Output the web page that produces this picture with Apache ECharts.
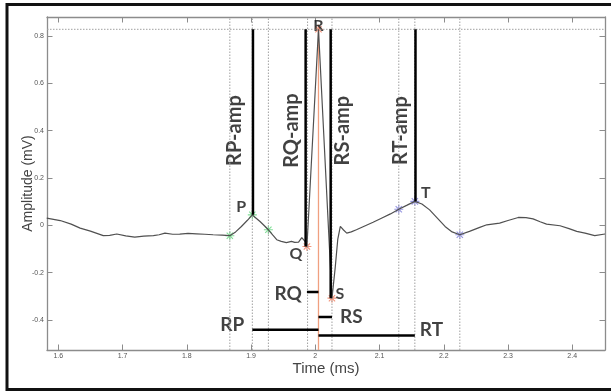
<!DOCTYPE html>
<html>
<head>
<meta charset="utf-8">
<script src="https://cdn.jsdelivr.net/npm/echarts@6/dist/echarts.min.js"></script>
<style>
html, body { margin: 0; padding: 0; background: #fff; }
#main { width: 611px; height: 392px; }
</style>
</head>
<body>
<div id="main"></div>
<script>
// ECG trace, time (ms) / amplitude (mV)
var ecgTime = [1.582, 1.603, 1.620, 1.634, 1.650, 1.670, 1.680, 1.691, 1.705, 1.719, 1.733, 1.748, 1.757, 1.766,
	1.778, 1.789, 1.802, 1.815, 1.828, 1.841, 1.855, 1.867, 1.876, 1.885, 1.894, 1.902, 1.908, 1.914, 1.920,
	1.927, 1.934, 1.940, 1.947, 1.955, 1.963, 1.968, 1.974, 1.979, 1.982, 1.984, 1.987, 2.005, 2.026, 2.031,
	2.035, 2.039, 2.044, 2.049, 2.056, 2.064, 2.077, 2.090, 2.103, 2.117, 2.130, 2.143, 2.155, 2.166, 2.178,
	2.190, 2.202, 2.213, 2.225, 2.240, 2.256, 2.267, 2.287, 2.300, 2.316, 2.328, 2.339, 2.350, 2.360, 2.381,
	2.395, 2.407, 2.420, 2.435, 2.451];
var ecgAmp = [0.030, 0.020, 0.005, -0.012, -0.025, -0.044, -0.043, -0.037, -0.045, -0.050, -0.046, -0.044, -0.040, -0.033,
	-0.038, -0.037, -0.034, -0.036, -0.038, -0.040, -0.042, -0.044, -0.028, -0.005, 0.020, 0.044, 0.030, 0.016, 0.000,
	-0.019, -0.042, -0.061, -0.068, -0.073, -0.068, -0.072, -0.071, -0.052, -0.055, -0.068, -0.090, 0.828, -0.308, -0.180,
	-0.060, -0.005, -0.020, -0.033, -0.028, -0.019, -0.003, 0.013, 0.030, 0.048, 0.068, 0.085, 0.101, 0.090, 0.065,
	0.030, -0.005, -0.028, -0.040, -0.026, -0.009, 0.002, 0.009, 0.020, 0.033, 0.032, 0.027, 0.015, 0.005, -0.002,
	-0.014, -0.026, -0.033, -0.044, -0.037];

// fiducial points (onset / peak / offset)
var pWaveTime = [1.867, 1.902, 1.927];
var pWaveAmp = [-0.044, 0.044, -0.019];
var qrsTime = [1.987, 2.005, 2.026];
var qrsAmp = [-0.090, 0.828, -0.308];
var tWaveTime = [2.130, 2.155, 2.225];
var tWaveAmp = [0.068, 0.101, -0.040];

// dotted guides
var guideTimes = [1.867, 1.902, 1.927, 1.988, 2.026, 2.130, 2.155, 2.225];
var rLevel = 0.828;
var rTime = 2.005;

// amplitude bars
var ampNames = ['RP-amp', 'RQ-amp', 'RS-amp', 'RT-amp'];
var ampTime = [1.903, 1.985, 2.024, 2.156];
var ampBase = [0.044, -0.090, -0.308, 0.101];

// interval bars
var intervalNames = ['RQ', 'RS', 'RP', 'RT'];
var intervalStart = [1.987, 2.005, 1.902, 2.005];
var intervalEnd = [2.005, 2.026, 2.005, 2.155];
var intervalLevel = [-0.282, -0.388, -0.441, -0.466];

// wave names
var peakNames = ['P', 'Q', 'R', 'S', 'T'];
var peakTime = [1.902, 1.987, 2.005, 2.026, 2.155];
var peakAmp = [0.044, -0.090, 0.828, -0.308, 0.101];

var xTicks = [1.6, 1.7, 1.8, 1.9, 2.0, 2.1, 2.2, 2.3, 2.4];
var yTicks = [-0.4, -0.2, 0, 0.2, 0.4, 0.6, 0.8];
var xMin = 1.5824, xMax = 2.451;
var yMin = -0.527, yMax = 0.88;

var myChart = echarts.init(document.getElementById('main'));

function zip(xs, ys) {
	return xs.map(function(x, i) { return [x, ys[i]]; });
}
function fmt(v) {
	return String(+(+v).toFixed(2));
}
var asterisk = 'path://M5,0L5,10M0,5L10,5M1.5,1.5L8.5,8.5M1.5,8.5L8.5,1.5';
var axisGray = '#8c8c8c';
var boldFont = 'Lato';

function boxAxis(pos, ticks, showLabel, min, max) {
	return {
		type: 'value', position: pos, min: min, max: max,
		axisLine: { show: true, onZero: false, lineStyle: { color: axisGray, width: 1.3 } },
		axisTick: { show: true, inside: true, length: 5.5, customValues: ticks, lineStyle: { color: axisGray } },
		axisLabel: { show: showLabel, customValues: ticks, formatter: fmt, fontSize: 7, color: '#555', margin: 3 },
		splitLine: { show: false }
	};
}

var series = [];

// vertical dotted guides
guideTimes.forEach(function(t) {
	series.push({
		type: 'line', silent: true, symbol: 'none',
		data: [[t, yMin], [t, yMax]],
		lineStyle: { color: '#a0a0a0', width: 1, type: [1.5, 1.5] }
	});
});
// R level dotted line
series.push({
	type: 'line', silent: true, symbol: 'none',
	data: [[xMin, rLevel], [xMax, rLevel]],
	lineStyle: { color: '#a0a0a0', width: 1, type: [1.5, 1.5] }
});
// R vertical
series.push({
	type: 'line', silent: true, symbol: 'none',
	data: [[rTime, rLevel], [rTime, yMin]],
	lineStyle: { color: '#f0a080', width: 1.3 }
});

// ECG trace
series.push({
	type: 'line', symbol: 'none', data: zip(ecgTime, ecgAmp),
	lineStyle: { color: '#505050', width: 1.2 }
});

// amplitude bars + rotated labels (offset is in the rotated frame: [along, across])
var ampShift = [-18, -14, 12, -15];
ampNames.forEach(function(name, i) {
	series.push({
		type: 'line', silent: true, symbol: 'none',
		data: [[ampTime[i], rLevel], [ampTime[i], ampBase[i]]],
		lineStyle: { color: '#000', width: 2.5 }
	});
	series.push({
		type: 'scatter', silent: true, symbolSize: 0,
		data: [[ampTime[i], 0.4]],
		label: {
			show: true, formatter: name, position: 'inside', rotate: 90, offset: [0, ampShift[i]],
			fontFamily: boldFont, fontWeight: 'bold', fontSize: 20, color: '#111'
		}
	});
});

// interval bars + labels
var intervalLabel = {
	RQ: { at: 'start', position: 'left', distance: 5, offset: [0, 2] },
	RS: { at: 'end', position: 'right', distance: 8, offset: [0, 0] },
	RP: { at: 'start', position: 'left', distance: 8, offset: [0, -5] },
	RT: { at: 'end', position: 'right', distance: 5, offset: [0, -6] }
};
intervalNames.forEach(function(name, i) {
	var cfg = intervalLabel[name];
	series.push({
		type: 'line', silent: true, symbol: 'none',
		data: [[intervalStart[i], intervalLevel[i]], [intervalEnd[i], intervalLevel[i]]],
		lineStyle: { color: '#000', width: 2.5 }
	});
	series.push({
		type: 'scatter', silent: true, symbolSize: 0,
		data: [[cfg.at === 'start' ? intervalStart[i] : intervalEnd[i], intervalLevel[i]]],
		label: {
			show: true, formatter: name, position: cfg.position, distance: cfg.distance, offset: cfg.offset,
			fontFamily: boldFont, fontWeight: 'bold', fontSize: 19, color: '#111'
		}
	});
});

// fiducial markers
[[pWaveTime, pWaveAmp, '#5fd47a'], [qrsTime, qrsAmp, '#f07a5a'], [tWaveTime, tWaveAmp, '#7a7ad8']].forEach(function(s) {
	series.push({
		type: 'scatter', silent: true, symbol: asterisk, symbolSize: 9,
		data: zip(s[0], s[1]),
		itemStyle: { color: 'none', borderColor: s[2], borderWidth: 1.1 }
	});
});

// wave names
var peakOffsets = { P: [-11, -8], Q: [-11, 7], R: [0, -3], S: [8, -4], T: [11, -9] };
series.push({
	type: 'scatter', silent: true, symbolSize: 0,
	data: peakNames.map(function(n, i) {
		return {
			value: [peakTime[i], peakAmp[i]],
			label: { formatter: n, offset: peakOffsets[n] }
		};
	}),
	label: {
		show: true, position: 'inside',
		fontFamily: boldFont, fontWeight: 'bold', fontSize: 16, color: '#111'
	}
});

var option = {
	backgroundColor: '#fff',
	animation: false,
	grid: { left: 47, right: 6, top: 17, bottom: 42 },
	xAxis: [
		Object.assign(boxAxis('bottom', xTicks, true, xMin, xMax), {
			name: 'Time (ms)', nameLocation: 'middle', nameGap: 11, nameMoveOverlap: false,
			nameTextStyle: { fontFamily: 'Liberation Sans', fontSize: 15, color: '#444' }
		}),
		boxAxis('top', xTicks, false, xMin, xMax)
	],
	yAxis: [
		Object.assign(boxAxis('left', yTicks, true, yMin, yMax), {
			name: 'Amplitude (mV)', nameLocation: 'middle', nameGap: 12, nameMoveOverlap: false,
			nameTextStyle: { fontFamily: 'Liberation Sans', fontSize: 14, color: '#444' }
		}),
		boxAxis('right', yTicks, false, yMin, yMax)
	],
	graphic: [{
		type: 'rect', silent: true,
		shape: { x: 7, y: 4.5, width: 612, height: 385 },
		style: { fill: 'none', stroke: '#111', lineWidth: 3 }
	}],
	series: series
};

myChart.setOption(option);
</script>
</body>
</html>
